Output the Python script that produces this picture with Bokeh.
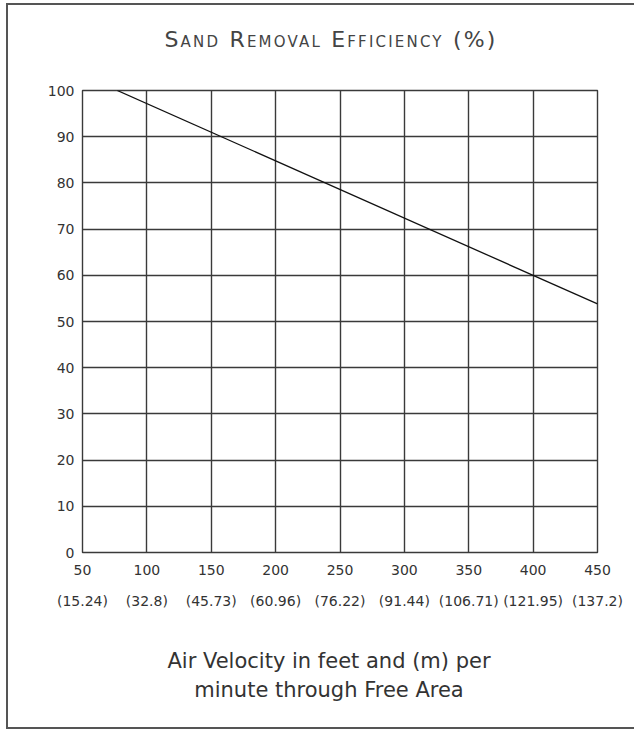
from bokeh.plotting import figure
from bokeh.models import Range1d, LinearAxis, FixedTicker, Grid, Div
from bokeh.layouts import column
from bokeh.embed import file_html
from bokeh.resources import INLINE

# ---- data ----
velocity_ticks = [50, 100, 150, 200, 250, 300, 350, 400, 450]
metric_labels = ["(15.24)", "(32.8)", "(45.73)", "(60.96)", "(76.22)",
                 "(91.44)", "(106.71)", "(121.95)", "(137.2)"]
efficiency_ticks = [0, 10, 20, 30, 40, 50, 60, 70, 80, 90, 100]
line_velocity = [77, 450]
line_efficiency = [100, 53.8]

title_text = "Sand Removal Efficiency (%)"
xlabel_line1 = "Air Velocity in feet and (m) per"
xlabel_line2 = "minute through Free Area"

FONT = "DejaVu Sans"
TXT = "#333333"
GRID = "#3a3a3a"

W = 626

head = Div(text=title_text, width=W, height=70, margin=0,
           styles={"font-family": FONT, "font-variant": "small-caps",
                   "font-size": "22px", "color": "#444444", "text-align": "center",
                   "letter-spacing": "2.2px", "padding-top": "22px",
                   "padding-left": "20px", "box-sizing": "border-box",
                   "line-height": "26px"})

p = figure(width=W, height=542, output_backend="svg", toolbar_location=None,
           x_range=Range1d(50, 450), y_range=Range1d(0, 100),
           min_border_left=74, min_border_right=37, min_border_top=15,
           min_border_bottom=65, x_axis_type=None, margin=0)

p.outline_line_color = GRID
p.outline_line_width = 1.4
p.background_fill_color = "white"
p.border_fill_color = "white"

# y axis
ya = p.yaxis[0]
ya.ticker = FixedTicker(ticks=efficiency_ticks)
ya.axis_line_color = None
ya.major_tick_line_color = None
ya.minor_tick_line_color = None
ya.major_tick_out = 0
ya.major_label_standoff = 8
ya.major_label_text_font = FONT
ya.major_label_text_font_size = "14px"
ya.major_label_text_color = TXT

# x axes (two rows)
xa1 = LinearAxis(ticker=FixedTicker(ticks=velocity_ticks))
xa2 = LinearAxis(ticker=FixedTicker(ticks=velocity_ticks),
                 major_label_overrides={t: s for t, s in zip(velocity_ticks, metric_labels)})
for ax, st in ((xa1, 12), (xa2, 15)):
    ax.axis_line_color = None
    ax.major_tick_line_color = None
    ax.minor_tick_line_color = None
    ax.major_tick_out = 0
    ax.major_tick_in = 0
    ax.major_label_standoff = st
    ax.major_label_text_font = FONT
    ax.major_label_text_font_size = "14px"
    ax.major_label_text_color = TXT
p.add_layout(xa1, "below")
p.add_layout(xa2, "below")

# grids
p.center = [r for r in p.center if not isinstance(r, Grid)]
xg = Grid(dimension=0, ticker=FixedTicker(ticks=velocity_ticks))
yg = Grid(dimension=1, ticker=FixedTicker(ticks=efficiency_ticks))
for g in (xg, yg):
    g.grid_line_color = GRID
    g.grid_line_width = 1.4
    g.grid_line_alpha = 1.0
    p.add_layout(g, "center")

p.line(line_velocity, line_efficiency, line_color="#111111", line_width=1.3)

foot = Div(text=f"{xlabel_line1}<br>{xlabel_line2}", width=W, height=110, margin=0,
           styles={"font-family": FONT, "font-size": "21px", "color": TXT,
                   "text-align": "center", "line-height": "29px",
                   "padding-top": "30px", "padding-left": "16px",
                   "box-sizing": "border-box"})

layout = column(head, p, foot, spacing=0,
                styles={"border-left": "2px solid #555555",
                        "border-top": "2px solid #555555",
                        "border-bottom": "2px solid #555555",
                        "border-right": "0px none transparent",
                        "margin-left": "6px", "margin-top": "3px"})

open("out.html", "w").write(file_html(layout, INLINE))
